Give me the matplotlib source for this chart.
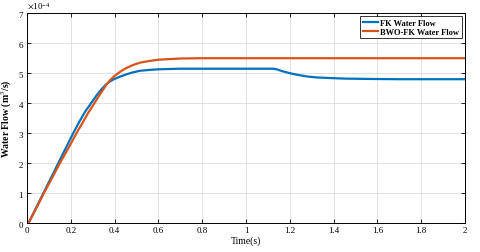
# Water flow comparison: FK vs BWO-FK
import numpy as np
import matplotlib.pyplot as plt

# Values (flow in units of 1e-4 m^3/s)
t_fk = [0.008, 0.04, 0.076, 0.11, 0.144, 0.178, 0.212, 0.24, 0.265, 0.294, 0.32, 0.34,
        0.362, 0.38, 0.40, 0.43, 0.453, 0.48, 0.515, 0.56, 0.60, 0.65, 0.70, 0.80, 1.00,
        1.125, 1.14, 1.16, 1.18, 1.20, 1.24, 1.28, 1.32, 1.38, 1.45, 1.55, 1.70, 2.00]
q_fk = [0.0, 0.47, 1.0, 1.5, 2.0, 2.5, 3.0, 3.38, 3.7, 4.0, 4.27, 4.45,
        4.62, 4.72, 4.8, 4.89, 4.95, 5.01, 5.07, 5.1, 5.12, 5.13, 5.14, 5.14, 5.14,
        5.14, 5.12, 5.07, 5.03, 4.99, 4.93, 4.88, 4.85, 4.83, 4.81, 4.8, 4.79, 4.79]
t_bwo = [0.008, 0.04, 0.078, 0.115, 0.151, 0.19, 0.227, 0.255, 0.28, 0.309, 0.335, 0.362,
         0.38, 0.40, 0.43, 0.453, 0.48, 0.515, 0.56, 0.60, 0.65, 0.70, 0.80, 2.00]
q_bwo = [0.0, 0.45, 1.0, 1.5, 2.0, 2.5, 3.0, 3.35, 3.67, 4.0, 4.3, 4.6,
         4.76, 4.9, 5.06, 5.16, 5.25, 5.34, 5.4, 5.44, 5.46, 5.48, 5.49, 5.49]

plt.rcParams['font.family'] = ['Liberation Serif', 'DejaVu Serif']
plt.rcParams['mathtext.fontset'] = 'stix'

fig = plt.figure(figsize=(4.8, 2.53), dpi=100)
ax = fig.add_axes([0.056, 0.115, 0.913, 0.83])

ax.plot(t_fk, np.array(q_fk) * 1e-4, color='#0072BD', lw=1.6, label='FK Water Flow')
ax.plot(t_bwo, np.array(q_bwo) * 1e-4, color='#D95319', lw=1.6, label='BWO-FK Water Flow')

ax.set_xlim(0, 2)
ax.set_ylim(0, 7e-4)
ax.set_xticks(np.arange(0, 2.01, 0.2))
ax.set_xticklabels(['0', '0.2', '0.4', '0.6', '0.8', '1', '1.2', '1.4', '1.6', '1.8', '2'])
ax.set_yticks(np.arange(0, 7.01e-4, 1e-4))
ax.ticklabel_format(axis='y', style='sci', scilimits=(0, 0), useMathText=True)
ax.yaxis.get_offset_text().set_fontsize(6.5)
ax.tick_params(direction='in', labelsize=6.5, length=3, width=0.6, top=True, right=True, pad=2)
ax.grid(True, color='#dddddd', lw=0.6)
for s in ax.spines.values():
    s.set_linewidth(0.7)

ax.set_xlabel('Time(s)', fontsize=7, labelpad=1)
ax.set_ylabel('Water Flow (m$^3$/s)', fontsize=7, fontweight='bold', labelpad=3)

leg = ax.legend(loc='upper right', frameon=True, fancybox=False, edgecolor='black',
                handlelength=1.8, handletextpad=0.3, borderpad=0.3, labelspacing=0.1,
                borderaxespad=0.4, prop={'weight': 'bold', 'size': 6})
leg.get_frame().set_linewidth(0.7)

fig.savefig('out.png', dpi=100)
